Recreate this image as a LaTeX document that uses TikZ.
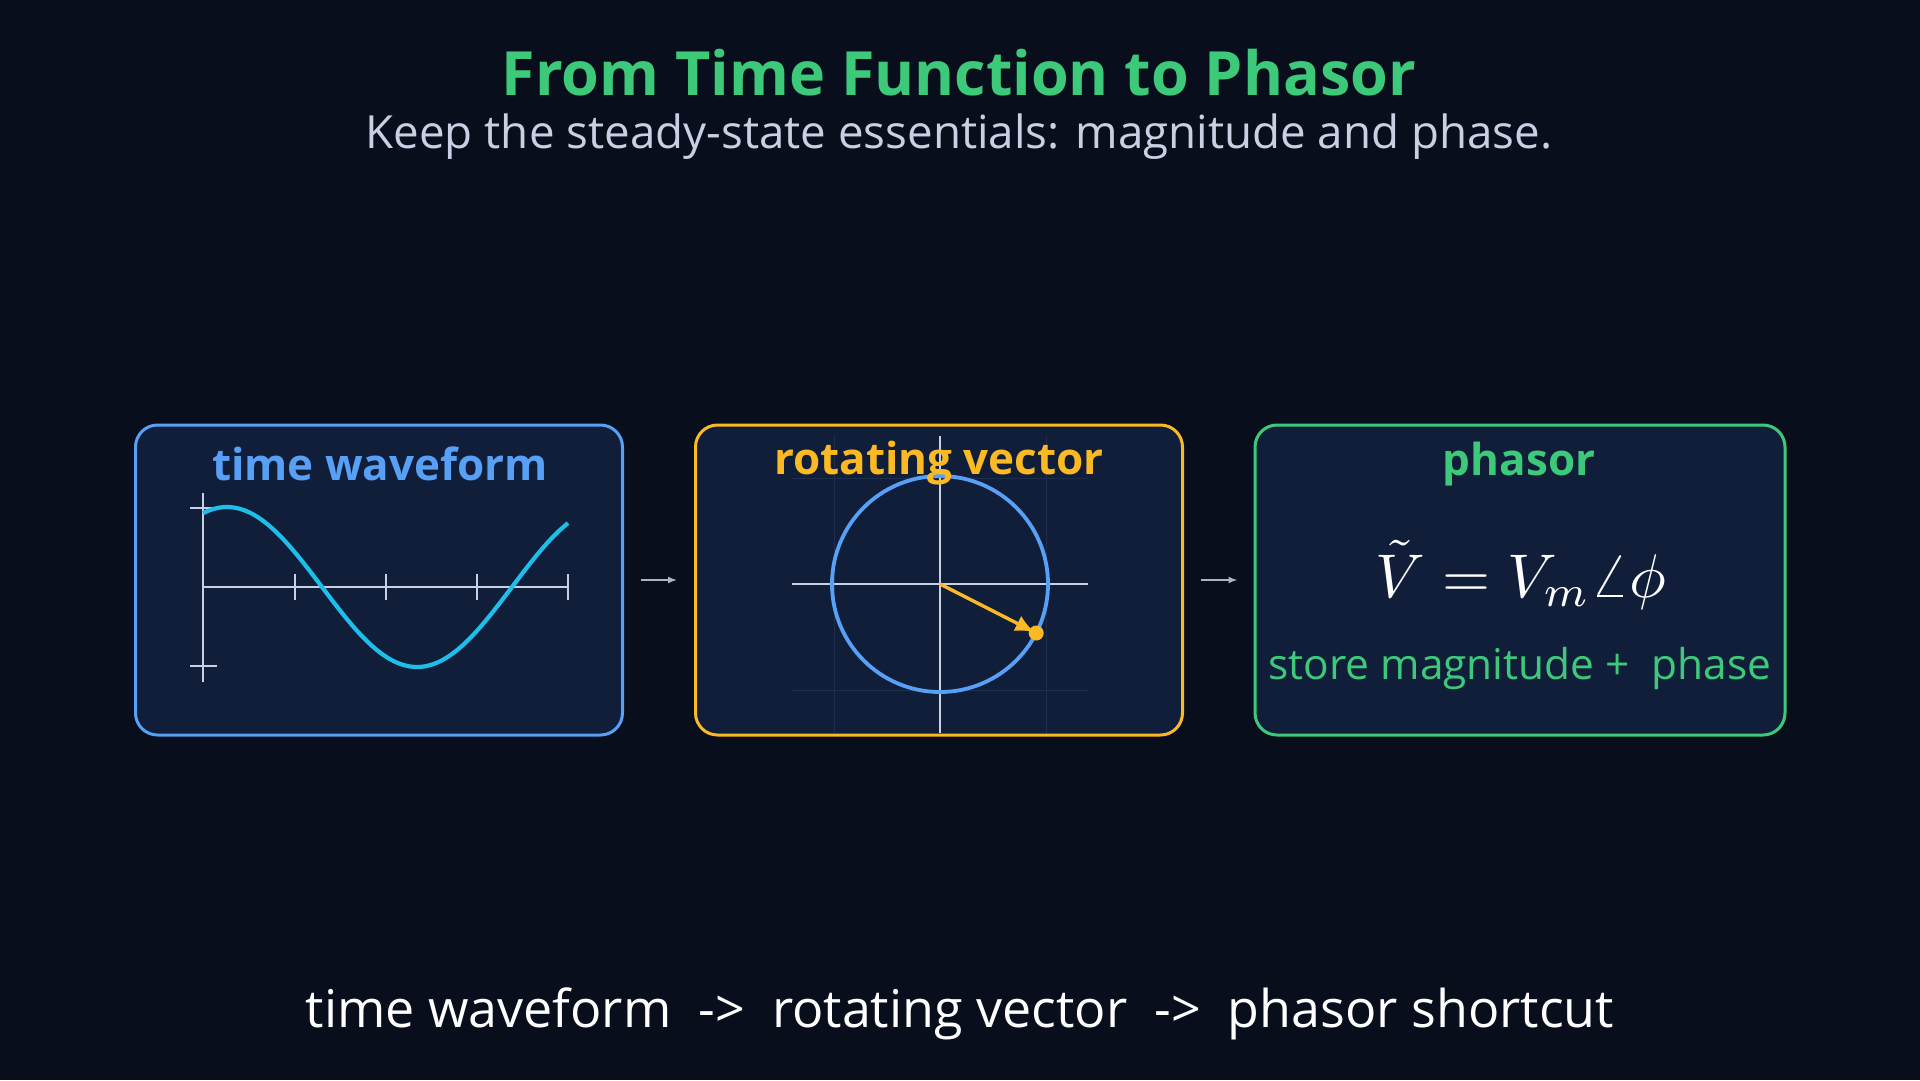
\documentclass[tikz,border=0pt]{standalone}
\usepackage{amsmath}
\usepackage{graphicx}
\usepackage{fontspec}
\setmainfont{Open Sans}
\usepackage{tikz}
\usetikzlibrary{arrows.meta}
\usetikzlibrary{calc}
\definecolor{bgdark}{RGB}{8,14,28}
\definecolor{panelfill}{RGB}{16,30,58}
\definecolor{wavblue}{RGB}{88,160,245}
\definecolor{rotamber}{RGB}{251,185,36}
\definecolor{phgreen}{RGB}{61,201,122}
\definecolor{axisgrey}{RGB}{200,208,228}
\definecolor{curvecyan}{RGB}{30,190,235}
\definecolor{gridfaint}{RGB}{30,46,76}
\tikzstyle{panel} = [draw, line width=3pt, fill=panelfill,
	rounded corners=22pt,
	minimum width = 487pt,
	minimum height = 310pt]
\tikzstyle{flow} =[-{Latex[length=9pt, width=7pt]}, line width=1.6pt, draw=axisgrey!85!bgdark]
\tikzstyle{axis} =[line width=1.8pt, draw=axisgrey]
\tikzstyle{heading} =[anchor=base, font=\bfseries\fontsize{44}{50}\selectfont]
\newcommand{\fsize}[1]{\fontsize{#1}{#1}\selectfont}

\begin{document}
\begin{tikzpicture}[x=1pt, y=-1pt]
			\fill [bgdark] (0,0) rectangle (1920,1080);
			\useasboundingbox (0,0) rectangle (1920,1080);
			
			\node (title) [anchor=base, text=phgreen, font=\bfseries\fsize{61}] at (959,95) {From Time Function to Phasor};
			\node (sub) [anchor=base, text=axisgrey, font=\fsize{45.7}] at (959,148) {Keep the steady-state essentials: magnitude and phase.};
			
			\node (wave) [panel, draw=wavblue] at (379,580) {};
			\node (rot) [panel, draw=rotamber] at (939,580) {};
			\node (ph) [panel, draw=phgreen, minimum width=530pt] at (1520,580) {};
			
			\draw [flow, shorten <=17pt, shorten >=17pt] (wave.east) -- (rot.west);
			\draw [flow, shorten <=17pt, shorten >=16pt] (rot.east) -- (ph.west);
			
			% time waveform
			\coordinate (o) at (203,587);
			\draw [axis] (203,493) -- (203,682);
			\draw [axis] (o) -- (568,587);
			\draw [axis] (190,508) -- (216,508);
			\draw [axis] (190,666) -- (217,666);
			\foreach \t in {295,386,477,568}
				\draw [axis] (\t,574) -- (\t,600);
			\draw [curvecyan, line width=4.2pt] plot [domain=203:568, samples=90, smooth] (\x, {587-80*cos((\x-227)/380*360)});
			\node (wavetitle) [heading, text=wavblue] at (380,480) {time waveform};
			
			% rotating vector
			\coordinate (ctr) at (940,584);
			\draw [gridfaint, line width=1pt] (792,690) -- (1088,690) (834,436) -- (834,733) (1046,436) -- (1046,733) (792,478) -- (1088,478);
			\draw [axis] (792,584) -- (1088,584);
			\draw [axis] (940,436) -- (940,733);
			\draw [wavblue, line width=3.8pt] (ctr) circle [radius=108];
			\coordinate (tip) at ($(ctr)+(27:108)$);
			\draw [rotamber, line width=3.4pt, -{Latex[length=19pt, width=17pt]}, shorten >=2pt] (ctr) -- (tip);
			\fill [rotamber] (tip) circle [radius=7.5];
			\node (rottitle) [heading, text=rotamber] at (939,474) {rotating vector};
			
			% phasor
			\node (phtitle) [heading, text=phgreen] at (1519,475) {phasor};
			\node (formula) [anchor=base, text=white] at (1521,597) {\resizebox{291pt}{!}{$\tilde{V} = V_m\angle\phi$}};
			\node (store) [anchor=base, text=phgreen, font=\fsize{42.4}] at (1520,679) {store magnitude +\ \ phase};
			
			\node (flowline) [anchor=base, text=white, font=\fsize{52}] at (960,1027) {time waveform\ \ ->\ \ rotating vector\ \ ->\ \ phasor shortcut};
		\end{tikzpicture}
\end{document}
